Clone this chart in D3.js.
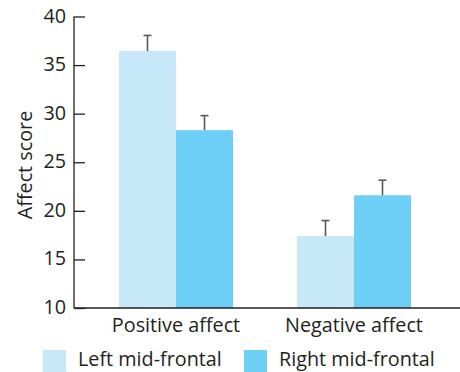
<!DOCTYPE html>
<html><head><meta charset="utf-8">
<script src="https://cdn.jsdelivr.net/npm/d3@7"></script>
<style>body{margin:0;background:#fff}svg{display:block}text{font-family:"Open Sans",sans-serif;fill:#231f20}</style>
</head><body><svg id="c" width="460" height="372"></svg>
<script>
const categories = ["Positive affect", "Negative affect"];
const seriesNames = ["Left mid-frontal", "Right mid-frontal"];
const leftValues = [36.45, 17.4];
const rightValues = [28.3, 21.6];
const leftErrors = [1.6, 1.6];
const rightErrors = [1.5, 1.55];
const yTicks = [10, 15, 20, 25, 30, 35, 40];
const colors = ["#c6e8f8", "#6dcff6"];

const FS = 19.8;
const svg = d3.select("#c");
const x0 = 74, yTop = 16.5, yBot = 308;
const y = d3.scaleLinear().domain([10, 40]).range([yBot, yTop]);
const xg = d3.scalePoint().domain(categories).range([176, 354]);
const bw = 57;
const xs = d3.scaleBand().domain(seriesNames).range([-bw, bw]);

const data = [];
categories.forEach((c, i) => {
  data.push({c, s: seriesNames[0], v: leftValues[i], e: leftErrors[i], col: colors[0]});
  data.push({c, s: seriesNames[1], v: rightValues[i], e: rightErrors[i], col: colors[1]});
});

svg.selectAll("rect.bar").data(data).join("rect").attr("class", "bar")
  .attr("x", d => xg(d.c) + xs(d.s)).attr("width", xs.bandwidth())
  .attr("y", d => y(d.v)).attr("height", d => y(10) - y(d.v)).attr("fill", d => d.col);

const cx = d => xg(d.c) + xs(d.s) + xs.bandwidth() / 2;
const eb = svg.selectAll("g.eb").data(data).join("g").attr("class", "eb")
  .attr("stroke", "#58595b").attr("stroke-width", 1.6);
eb.append("line").attr("x1", cx).attr("x2", cx)
  .attr("y1", d => y(d.v)).attr("y2", d => y(d.v + d.e));
eb.append("line").attr("x1", d => cx(d) - 4).attr("x2", d => cx(d) + 4)
  .attr("y1", d => y(d.v + d.e)).attr("y2", d => y(d.v + d.e));

// y axis
const ya = svg.append("g").attr("transform", `translate(${x0},0)`)
  .call(d3.axisRight(y).tickValues(yTicks).tickSize(11).tickFormat(d3.format("d")));
ya.select(".domain").remove();
ya.selectAll(".tick line").attr("stroke", "#231f20").attr("stroke-width", 1.3);
ya.selectAll(".tick text").attr("x", -8).attr("text-anchor", "end").attr("font-size", FS).attr("dy", 5.5)
  .style("font-family", '"Open Sans",sans-serif').attr("fill", "#231f20");
svg.append("line").attr("x1", x0).attr("x2", x0).attr("y1", yTop).attr("y2", yBot).attr("stroke", "#231f20").attr("stroke-width", 1.3);
svg.append("line").attr("x1", x0).attr("x2", 460).attr("y1", yBot).attr("y2", yBot).attr("stroke", "#231f20").attr("stroke-width", 1.6);

// x labels
svg.selectAll("text.xl").data(categories).join("text").attr("class", "xl")
  .attr("x", d => xg(d)).attr("y", 332).attr("text-anchor", "middle").attr("font-size", FS).text(d => d);

// y label
svg.append("text").attr("transform", "translate(32,165) rotate(-90)").attr("text-anchor", "middle")
  .attr("font-size", FS).text("Affect score");

// legend
const lx = [43, 244];
seriesNames.forEach((s, i) => {
  svg.append("rect").attr("x", lx[i]).attr("y", 350).attr("width", 23).attr("height", 23).attr("fill", colors[i]);
  svg.append("text").attr("x", lx[i] + 35).attr("y", 366).attr("font-size", FS).text(s);
});
</script></body></html>
